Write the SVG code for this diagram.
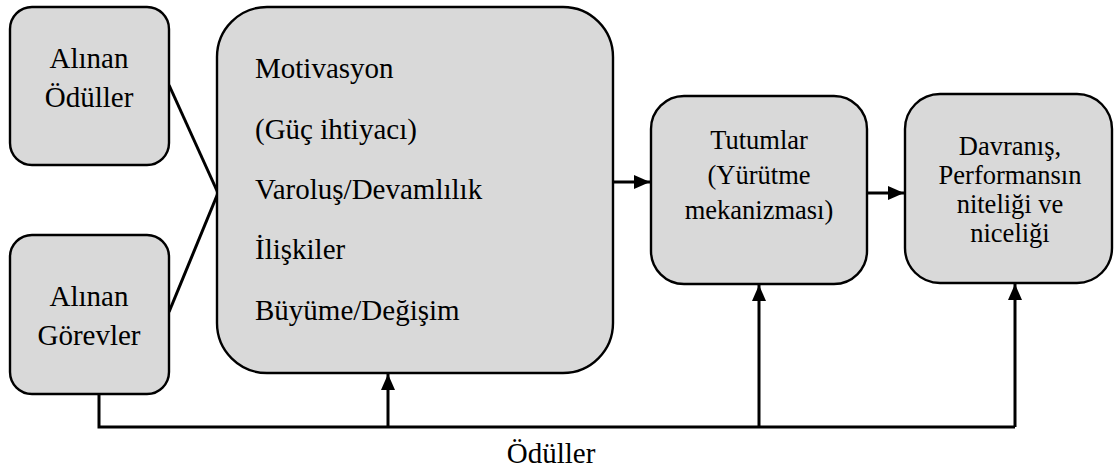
<svg xmlns="http://www.w3.org/2000/svg" width="1117" height="469" viewBox="0 0 1117 469">
  <style>
    .box { fill: #d9d9d9; stroke: #000; stroke-width: 2.4; }
    .t { font-family: "Liberation Serif", "Times New Roman", serif; fill: #000; }
    .big { font-size: 29px; }
    .mid { font-size: 26.5px; }
    .c { text-anchor: middle; }
    .wire { fill: none; stroke: #000; stroke-width: 3; }
  </style>
  <defs>
    <marker id="arrow" markerUnits="userSpaceOnUse" markerWidth="16" markerHeight="14" refX="16" refY="7" orient="auto">
      <path d="M0,0 L16,7 L0,14 Z" fill="#000"/>
    </marker>
  </defs>

  <rect width="1117" height="469" fill="#fff"/>

  <g id="connectors">
    <!-- inputs converging on the motivation box -->
    <line class="wire" x1="169" y1="85" x2="218" y2="193"/>
    <line class="wire" x1="169" y1="312" x2="218" y2="193"/>
    <!-- forward flow -->
    <line class="wire" x1="613" y1="182" x2="650" y2="182" marker-end="url(#arrow)"/>
    <line class="wire" x1="867" y1="193" x2="904" y2="193" marker-end="url(#arrow)"/>
    <!-- reward feedback loop -->
    <polyline class="wire" points="99,394 99,427 1015,427"/>
    <line class="wire" x1="388" y1="427" x2="388" y2="374" marker-end="url(#arrow)"/>
    <line class="wire" x1="759" y1="427" x2="759" y2="285" marker-end="url(#arrow)"/>
    <line class="wire" x1="1015" y1="427" x2="1015" y2="284" marker-end="url(#arrow)"/>
  </g>

  <g id="alinan-oduller">
    <rect class="box" x="10" y="7" width="159" height="158" rx="22" ry="22"/>
    <text class="t big c" x="89" y="68">Alınan</text>
    <text class="t big c" x="89" y="107">Ödüller</text>
  </g>

  <g id="alinan-gorevler">
    <rect class="box" x="10" y="235" width="159" height="159" rx="22" ry="22"/>
    <text class="t big c" x="89" y="306">Alınan</text>
    <text class="t big c" x="89" y="345">Görevler</text>
  </g>

  <g id="motivasyon">
    <rect class="box" x="217" y="7" width="396" height="366" rx="50" ry="50"/>
    <text class="t big" x="255" y="78">Motivasyon</text>
    <text class="t big" x="255" y="139">(Güç ihtiyacı)</text>
    <text class="t big" x="255" y="199">Varoluş/Devamlılık</text>
    <text class="t big" x="255" y="259">İlişkiler</text>
    <text class="t big" x="255" y="320">Büyüme/Değişim</text>
  </g>

  <g id="tutumlar">
    <rect class="box" x="651" y="96" width="216" height="188" rx="33" ry="33"/>
    <text class="t mid c" x="759" y="149">Tutumlar</text>
    <text class="t mid c" x="759" y="184">(Yürütme</text>
    <text class="t mid c" x="759" y="219">mekanizması)</text>
  </g>

  <g id="davranis">
    <rect class="box" x="905" y="94" width="207" height="189" rx="35" ry="35"/>
    <text class="t mid c" x="1010" y="155">Davranış,</text>
    <text class="t mid c" x="1010" y="184">Performansın</text>
    <text class="t mid c" x="1010" y="213">niteliği ve</text>
    <text class="t mid c" x="1010" y="242">niceliği</text>
  </g>

  <text id="oduller-label" class="t big c" x="551" y="463">Ödüller</text>
</svg>
